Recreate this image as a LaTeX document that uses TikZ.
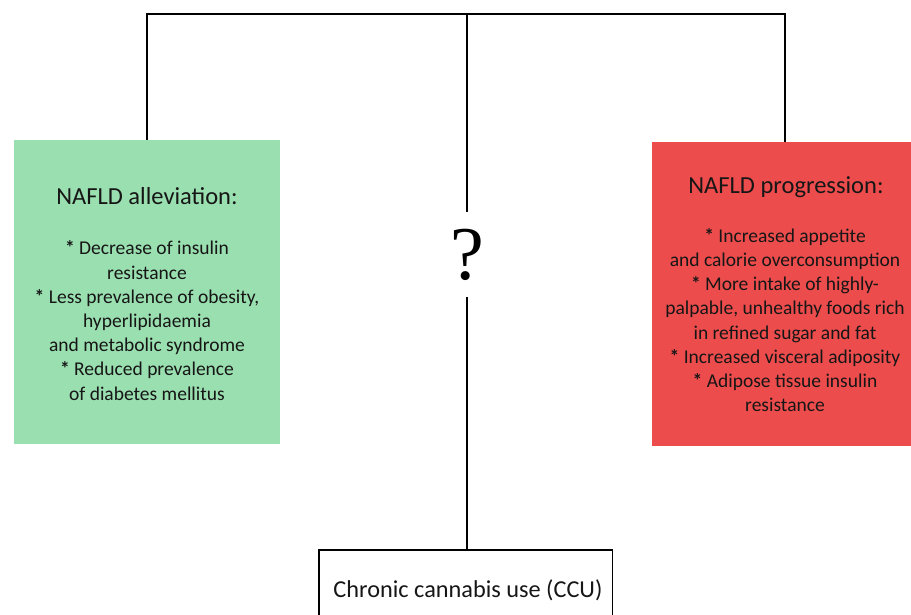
\documentclass[tikz,border=0pt]{standalone}
\usepackage{fontspec}
\setmainfont{Carlito}
\newfontfamily\qfont{Liberation Serif}
\definecolor{boxgreen}{RGB}{154,223,176}
\definecolor{boxred}{RGB}{237,76,76}
\definecolor{ink}{RGB}{22,22,22}
\begin{document}
\begin{tikzpicture}[x=1pt,y=-1pt,
  panel/.style={draw=none, inner sep=0pt, anchor=north west, minimum width=266pt, minimum height=304pt},
  link/.style={line width=1.7pt, draw=black},
  titletext/.style={font=\fontsize{24.5}{26}\selectfont, text=ink, anchor=base, inner sep=0pt},
  bodytext/.style={font=\fontsize{19.5}{24.2}\selectfont, text=ink, align=center, inner sep=0pt}]
\useasboundingbox (0,0) rectangle (911,614);

\node[panel, fill=boxgreen] (alle) at (14,140) {};
\node[panel, fill=boxred] (prog) at (652,142) {};

\node[titletext] (alletitle) at (147,204) {NAFLD alleviation:};
\node[bodytext] (allebody) at (147,320.5) {\textbf{*} Decrease of insulin\\ resistance\\ \textbf{*} Less prevalence of obesity,\\ hyperlipidaemia\\ and metabolic syndrome\\ \textbf{*} Reduced prevalence\\ of diabetes mellitus};

\node[titletext] (progtitle) at (786,193) {NAFLD progression:};
\node[bodytext] (progbody) at (785,320) {\textbf{*} Increased appetite\\ and calorie overconsumption\\ \textbf{*} More intake of highly-\\ palpable, unhealthy foods rich\\ in refined sugar and fat\\ \textbf{*} Increased visceral adiposity\\ \textbf{*} Adipose tissue insulin\\ resistance};

\node[inner sep=0pt, minimum width=293pt, minimum height=70pt, anchor=north west] (ccu) at (319,550) {};
\node[font=\fontsize{24.3}{26}\selectfont, text=ink, anchor=base, inner sep=0pt] (ccutext) at (468,597) {Chronic cannabis use (CCU)};
\draw[link] (ccu.south west) -- (ccu.north west) -- (ccu.north east) -- (ccu.south east);

\node[font=\qfont\fontsize{76}{76}\selectfont, inner sep=0pt, minimum height=85pt] (q) at (467,254.5) {?};

\coordinate (hub) at (467,14);
\draw[link] (alle.north) |- (hub) -| (prog.north);
\draw[link] (hub) -- (q.north);
\draw[link] (q.south) -- (q.south |- ccu.north);
\end{tikzpicture}
\end{document}
